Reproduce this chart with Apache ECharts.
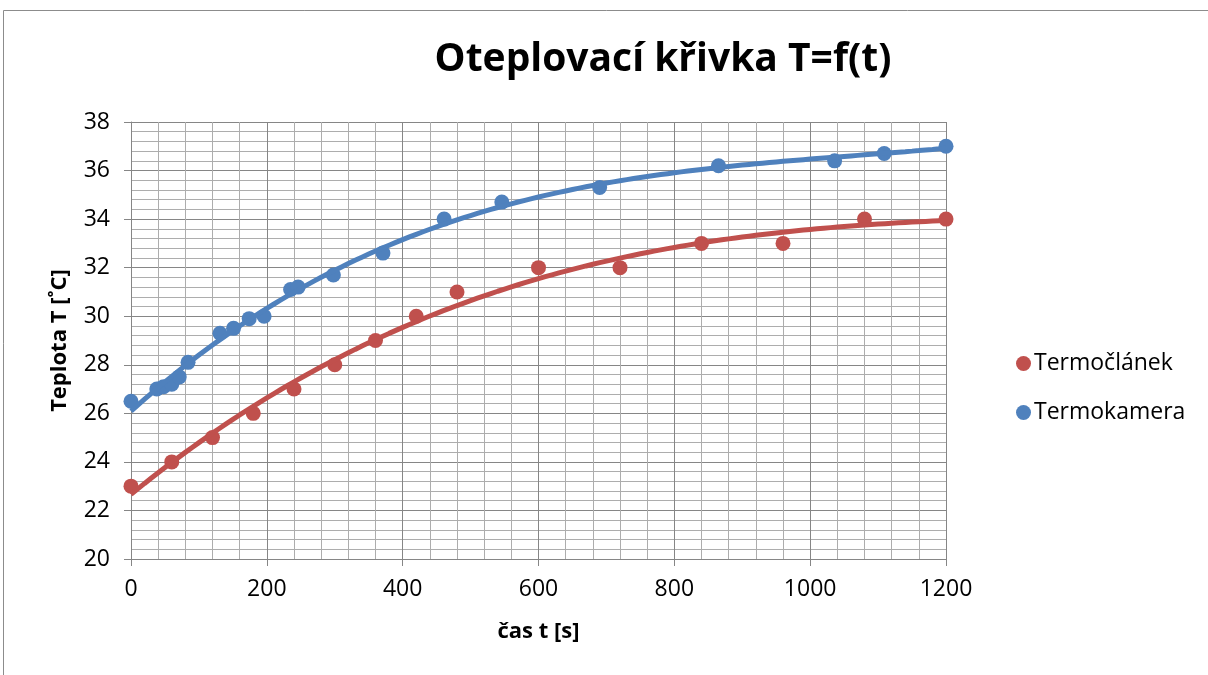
<!DOCTYPE html>
<html>
<head>
<meta charset="utf-8">
<script src="https://cdn.jsdelivr.net/npm/echarts@6/dist/echarts.min.js"></script>
<style>
  html, body { margin: 0; padding: 0; background: #fff; }
  #chart { width: 1208px; height: 675px; }
</style>
</head>
<body>
<div id="chart"></div>
<script>
// Measured heating data: time [s] and temperature [°C]
const timeTermoclanek = [0, 60, 120, 180, 240, 300, 360, 420, 480, 600, 720, 840, 960, 1080, 1200];
const tempTermoclanek = [23, 24, 25, 26, 27, 28, 29, 30, 31, 32, 32, 33, 33, 34, 34];

const timeTermokamera = [0, 38, 48, 60, 71, 84, 131, 151, 174, 196, 235, 246, 298, 371, 461, 546, 690, 865, 1036, 1109, 1200];
const tempTermokamera = [26.5, 27.0, 27.1, 27.2, 27.5, 28.1, 29.3, 29.5, 29.9, 30.0, 31.1, 31.2, 31.7, 32.6, 34.0, 34.7, 35.3, 36.2, 36.4, 36.7, 37.0];

const seriesNames = ['Termočlánek', 'Termokamera'];
const seriesColors = ['#C0504D', '#4F81BD'];

const FONT = 'Open Sans';
const TREND_ORDER = 3;

// Least-squares polynomial trend line of the given order
function polyFit(xs, ys, order) {
  const n = order + 1;
  const s = 1000; // scale time to keep the normal equations well conditioned
  const A = Array.from({ length: n }, () => new Array(n + 1).fill(0));
  for (let k = 0; k < xs.length; k++) {
    const x = xs[k] / s;
    for (let i = 0; i < n; i++) {
      for (let j = 0; j < n; j++) A[i][j] += Math.pow(x, i + j);
      A[i][n] += ys[k] * Math.pow(x, i);
    }
  }
  for (let c = 0; c < n; c++) {
    let p = c;
    for (let r = c + 1; r < n; r++) if (Math.abs(A[r][c]) > Math.abs(A[p][c])) p = r;
    [A[c], A[p]] = [A[p], A[c]];
    for (let r = 0; r < n; r++) {
      if (r === c) continue;
      const f = A[r][c] / A[c][c];
      for (let j = c; j <= n; j++) A[r][j] -= f * A[c][j];
    }
  }
  const coef = A.map((row, i) => row[n] / row[i]);
  return t => coef.reduce((acc, a, i) => acc + a * Math.pow(t / s, i), 0);
}

function trendPoints(xs, ys) {
  const f = polyFit(xs, ys, TREND_ORDER);
  const t0 = Math.min(...xs), t1 = Math.max(...xs);
  const pts = [];
  for (let i = 0; i <= 120; i++) {
    const t = t0 + (t1 - t0) * i / 120;
    pts.push([t, f(t)]);
  }
  return pts;
}

const zip = (a, b) => a.map((v, i) => [v, b[i]]);

const chart = echarts.init(document.getElementById('chart'), null, { renderer: 'canvas' });

const majorGrid = { show: true, lineStyle: { color: '#868686', width: 1 } };
const minorGrid = { show: true, lineStyle: { color: '#adadad', width: 1 } };

chart.setOption({
  animation: false,
  backgroundColor: '#ffffff',
  textStyle: { fontFamily: FONT },
  graphic: [{
    type: 'rect',
    shape: { x: 3.5, y: 10.5, width: 1220, height: 700 },
    style: { fill: 'none', stroke: '#8c8c8c', lineWidth: 1 },
    silent: true
  }],
  title: {
    text: 'Oteplovací křivka T=f(t)',
    left: 658,
    textAlign: 'center',
    top: 35,
    textStyle: { fontFamily: FONT, fontSize: 39, fontWeight: 'bold', color: '#000' }
  },
  legend: {
    orient: 'vertical',
    left: 1011,
    top: 347,
    itemGap: 26,
    itemWidth: 15,
    itemHeight: 15,
    icon: 'circle',
    data: seriesNames,
    textStyle: { fontFamily: FONT, fontSize: 23, color: '#000', padding: [0, 0, 0, -2] }
  },
  grid: { left: 131, right: 262, top: 122, bottom: 116, containLabel: false },
  xAxis: {
    type: 'value',
    min: 0, max: 1200, interval: 200,
    name: 'čas t [s]',
    nameLocation: 'middle',
    nameGap: 62,
    nameTextStyle: { fontFamily: FONT, fontSize: 22, fontWeight: 'bold', color: '#000' },
    axisLine: { show: true, lineStyle: { color: '#868686', width: 1 } },
    axisTick: { show: true, inside: false, length: 7, lineStyle: { color: '#868686' } },
    axisLabel: { fontFamily: FONT, fontSize: 23, color: '#000', margin: 19, formatter: v => String(v) },
    splitLine: majorGrid,
    minorTick: { show: false, splitNumber: 5 },
    minorSplitLine: minorGrid
  },
  yAxis: {
    type: 'value',
    min: 20, max: 38, interval: 2,
    name: 'Teplota T [˚C]',
    nameLocation: 'middle',
    nameGap: 60,
    nameTextStyle: { fontFamily: FONT, fontSize: 22, fontWeight: 'bold', color: '#000' },
    axisLine: { show: true, lineStyle: { color: '#868686', width: 1 } },
    axisTick: { show: true, inside: false, length: 7, lineStyle: { color: '#868686' } },
    axisLabel: { fontFamily: FONT, fontSize: 23, color: '#000', margin: 21, formatter: v => String(v) },
    splitLine: majorGrid,
    minorTick: { show: false, splitNumber: 5 },
    minorSplitLine: minorGrid
  },
  series: [
    {
      name: seriesNames[0],
      type: 'scatter',
      symbol: 'circle',
      symbolSize: 15,
      itemStyle: { color: seriesColors[0], opacity: 1 },
      data: zip(timeTermoclanek, tempTermoclanek),
      z: 3
    },
    {
      name: seriesNames[1],
      type: 'scatter',
      symbol: 'circle',
      symbolSize: 15,
      itemStyle: { color: seriesColors[1], opacity: 1 },
      data: zip(timeTermokamera, tempTermokamera),
      z: 3
    },
    {
      name: 'trend-1',
      type: 'line',
      showSymbol: false,
      smooth: false,
      lineStyle: { color: seriesColors[0], width: 5 },
      data: trendPoints(timeTermoclanek, tempTermoclanek),
      z: 4
    },
    {
      name: 'trend-2',
      type: 'line',
      showSymbol: false,
      smooth: false,
      lineStyle: { color: seriesColors[1], width: 5 },
      data: trendPoints(timeTermokamera, tempTermokamera),
      z: 4
    }
  ]
});
</script>
</body>
</html>
